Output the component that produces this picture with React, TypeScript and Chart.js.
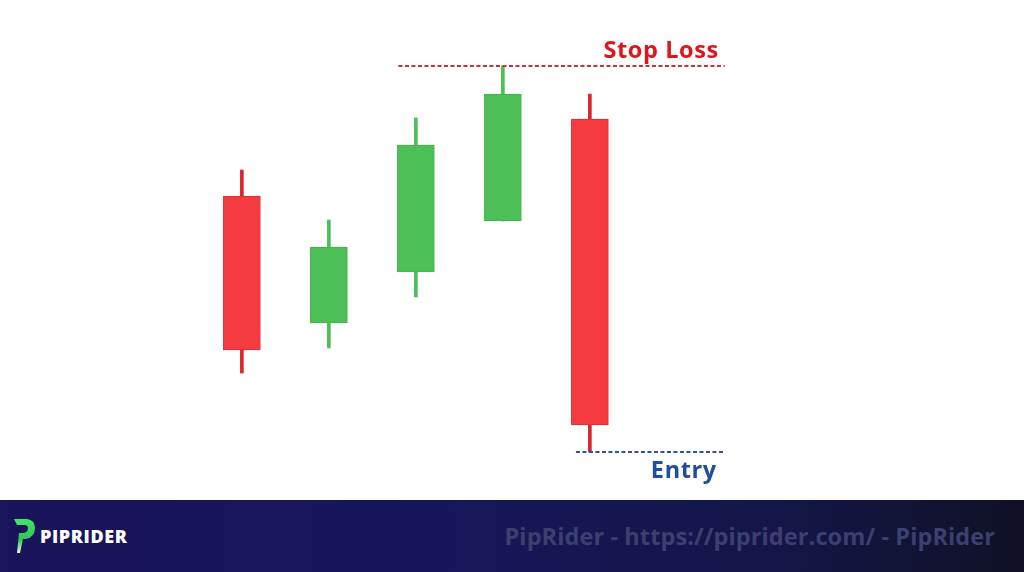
import React, { useEffect, useRef } from "react";
import { Chart, registerables } from "chart.js";

Chart.register(...registerables);

// ---- data ----
const candleIndex = [0, 1, 2, 3, 4];
const opens = [152, 88.5, 114, 139.5, 190.5];
const closes = [75, 126.5, 177.5, 203, 37.5];
const highs = [165, 140, 191, 217, 203];
const lows = [63.5, 76, 101.5, 139.5, 24];
const stopLossLevel = 217;
const entryLevel = 24;
const stopLossSpan = [1.8, 5.55];
const entrySpan = [3.84, 5.55];
const stopLossLabel = "Stop Loss";
const entryLabel = "Entry";
const footerBrand = "PIPRIDER";
const footerText = "PipRider - https://piprider.com/ - PipRider";

const RED = "#f43c40";
const RED_EDGE = "#de2c31";
const GREEN = "#4cbf56";
const GREEN_EDGE = "#45b14f";

const labelPlugin = {
  id: "levelLabels",
  afterDatasetsDraw(chart: any) {
    const { ctx, scales } = chart;
    const x = scales.x;
    const y = scales.y;
    ctx.save();
    ctx.font = "700 23.5px 'Open Sans', 'Noto Sans', sans-serif";
    (ctx as any).letterSpacing = "0.6px";
    ctx.textAlign = "right";
    ctx.textBaseline = "alphabetic";
    ctx.fillStyle = "#e0151b";
    ctx.fillText(stopLossLabel, x.getPixelForValue(stopLossSpan[1]) - 6, y.getPixelForValue(stopLossLevel) - 8);
    ctx.fillStyle = "#1f4d9f";
    ctx.fillText(entryLabel, x.getPixelForValue(entrySpan[1]) - 8, y.getPixelForValue(entryLevel) + 26);
    ctx.restore();
  },
};

function CandleChart() {
  const ref = useRef<HTMLCanvasElement>(null);
  useEffect(() => {
    if (!ref.current) return;
    const up = candleIndex.map((i) => closes[i] >= opens[i]);
    const chart = new Chart(ref.current, {
      type: "bar",
      data: {
        datasets: [
          {
            type: "bar",
            label: "body",
            data: candleIndex.map((i) => ({ x: i, y: [opens[i], closes[i]] })) as any,
            backgroundColor: up.map((u) => (u ? GREEN : RED)),
            borderColor: up.map((u) => (u ? GREEN_EDGE : RED_EDGE)),
            borderWidth: 1,
            borderSkipped: false,
            barThickness: 37,
            grouped: false,
            order: 1,
          } as any,
          {
            type: "bar",
            label: "wick",
            data: candleIndex.map((i) => ({ x: i, y: [lows[i], highs[i]] })) as any,
            backgroundColor: up.map((u) => (u ? GREEN : "#d9262c")),
            borderWidth: 0,
            barThickness: 3,
            grouped: false,
            order: 2,
          } as any,
          {
            type: "line",
            label: "stop",
            data: stopLossSpan.map((v) => ({ x: v, y: stopLossLevel })),
            borderColor: "#c1333a",
            borderWidth: 1.8,
            borderDash: [4, 2.5],
            pointRadius: 0,
            order: 0,
          } as any,
          {
            type: "line",
            label: "entry",
            data: entrySpan.map((v) => ({ x: v, y: entryLevel })),
            borderColor: "#2c53a2",
            borderWidth: 1.8,
            borderDash: [4, 2.5],
            pointRadius: 0,
            order: 0,
          } as any,
        ],
      },
      options: {
        animation: false,
        responsive: false,
        maintainAspectRatio: false,
        layout: { padding: 0 },
        plugins: { legend: { display: false }, tooltip: { enabled: false } },
        scales: {
          x: { type: "linear", min: -2.78, max: 8.99, offset: false, display: false },
          y: { type: "linear", min: 0, max: 250, display: false },
        },
      },
      plugins: [labelPlugin],
    });
    return () => chart.destroy();
  }, []);
  return <canvas ref={ref} width={1024} height={500} style={{ display: "block", width: 1024, height: 500 }} />;
}

export default function App() {
  return (
    <div style={{ position: "absolute", left: 0, top: 0, width: 1024, height: 572, background: "#fff", overflow: "hidden" }}>
      <CandleChart />
      <div
        style={{
          position: "absolute",
          left: 0,
          top: 500,
          width: 1024,
          height: 72,
          background: "linear-gradient(90deg, #1a145a 0%, #17165a 45%, #141648 75%, #101126 100%)",
        }}
      >
        <svg width={40} height={72} style={{ position: "absolute", left: 0, top: 0 }}>
          <defs>
            <linearGradient id="pg" x1="0" y1="0" x2="0" y2="1">
              <stop offset="0" stopColor="#3fe56c" />
              <stop offset="0.6" stopColor="#2fc455" />
              <stop offset="1" stopColor="#e8f5ec" />
            </linearGradient>
          </defs>
          <path
            d="M14,19 L27,19 Q35,20 35,28 Q35,37 26,39 L23,39 L20,53 L17,53 L19,33 L24,33 Q28,32 28,28 Q28,25 24,25 L17,25 Z"
            fill="url(#pg)"
          />
        </svg>
        <div
          style={{
            position: "absolute",
            left: 40,
            top: 24,
            color: "#ffffff",
            fontFamily: "'Open Sans', sans-serif",
            fontWeight: 800,
            fontSize: 18,
            lineHeight: "24px",
            letterSpacing: 0.6,
          }}
        >
          {footerBrand}
        </div>
        <div
          style={{
            position: "absolute",
            right: 29,
            top: 20,
            color: "#3c406e",
            fontFamily: "'Open Sans', sans-serif",
            fontWeight: 700,
            fontSize: 23.5,
            lineHeight: "32px",
            whiteSpace: "nowrap",
            letterSpacing: 0.1,
          }}
        >
          {footerText}
        </div>
      </div>
    </div>
  );
}
